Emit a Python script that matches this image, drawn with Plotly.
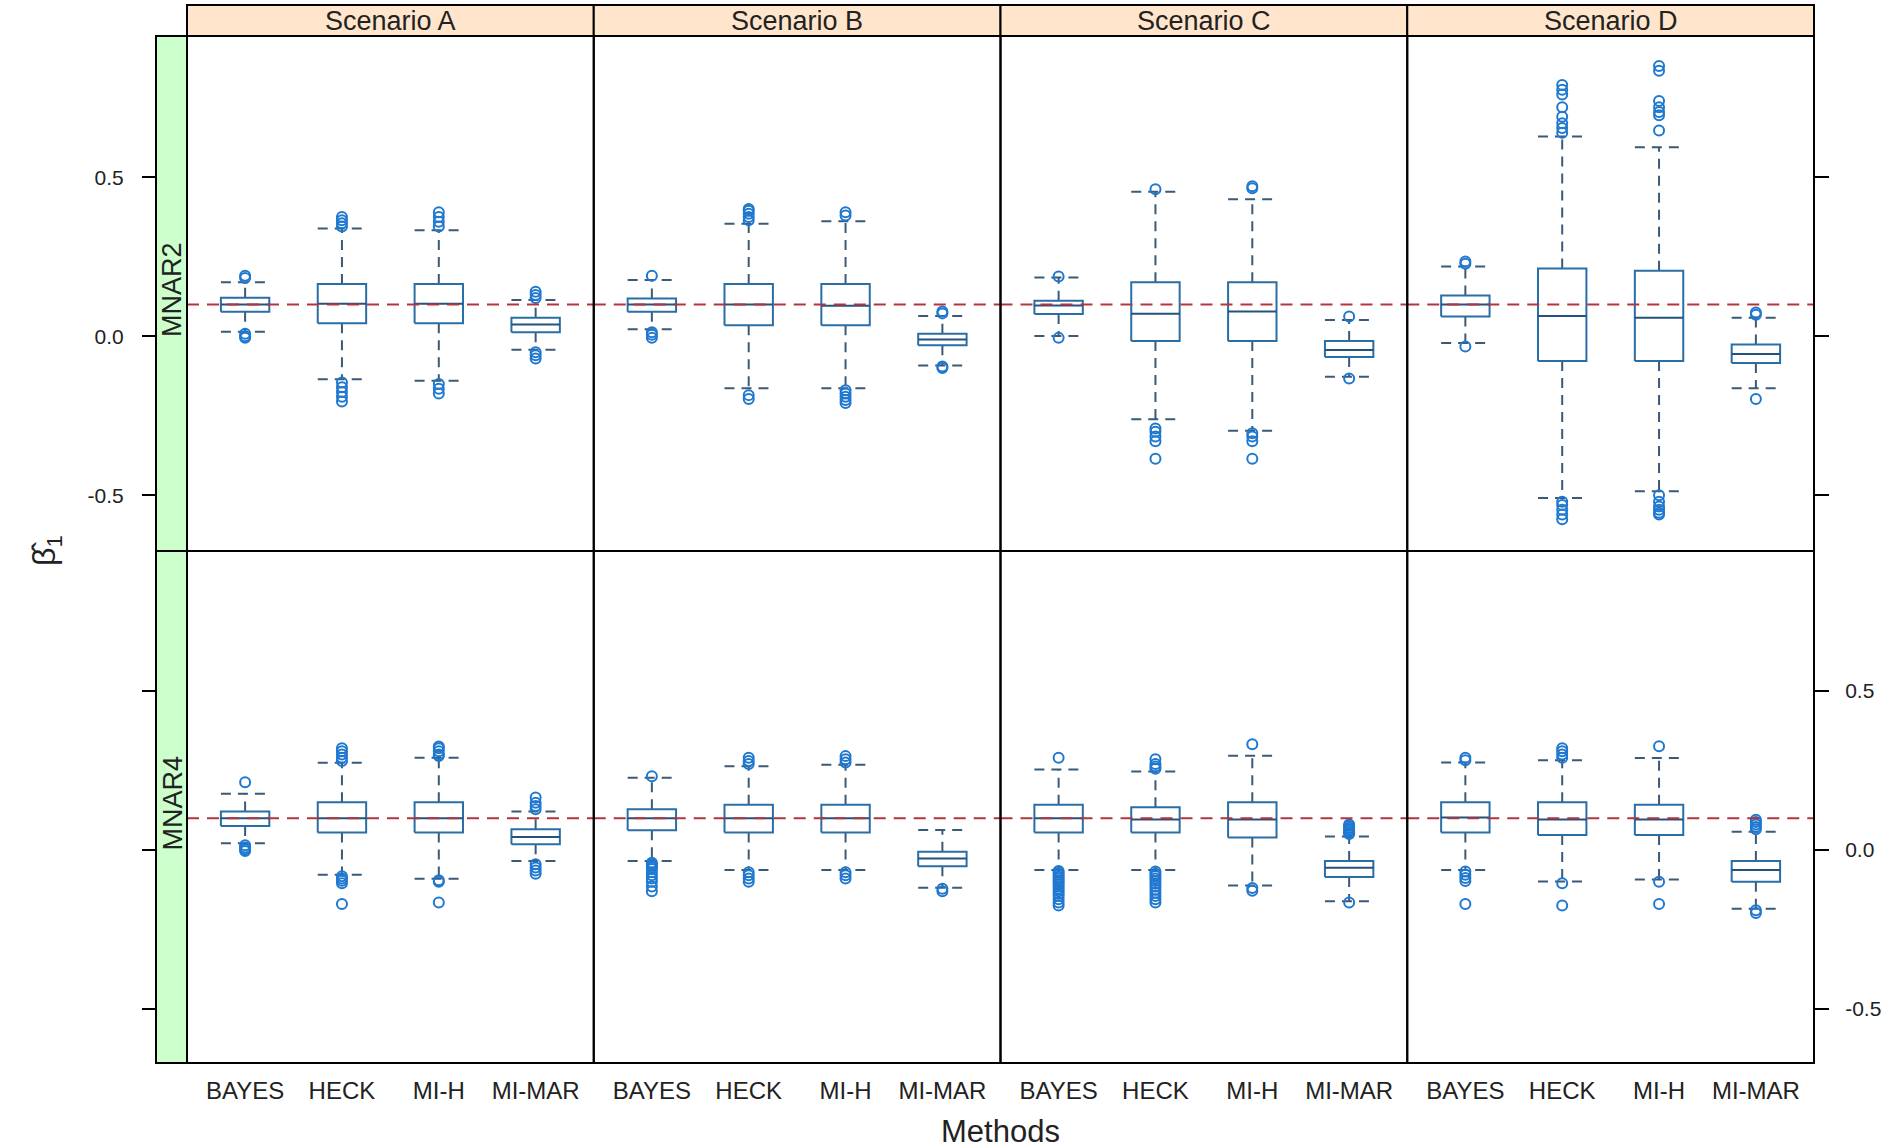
import plotly.graph_objects as go

W, H = 1890, 1148

METHODS = ["BAYES", "HECK", "MI-H", "MI-MAR"]
SCENARIOS = ["Scenario A", "Scenario B", "Scenario C", "Scenario D"]
MECHANISMS = ["MNAR2", "MNAR4"]
TRUE_BETA1 = 0.1
Y_TICKS = [-0.5, 0.0, 0.5]
Y_TICK_TEXT = ["-0.5", "0.0", "0.5"]

# ---- MNAR2 (top row): [scenario][method] ----
MNAR2_Q1 = [[0.077, 0.041, 0.041, 0.013],
            [0.077, 0.035, 0.035, -0.028],
            [0.070, -0.015, -0.015, -0.065],
            [0.062, -0.078, -0.078, -0.084]]
MNAR2_MED = [[0.100, 0.102, 0.102, 0.037],
             [0.100, 0.100, 0.096, -0.010],
             [0.097, 0.071, 0.078, -0.043],
             [0.100, 0.064, 0.058, -0.056]]
MNAR2_Q3 = [[0.121, 0.164, 0.164, 0.058],
            [0.119, 0.164, 0.164, 0.008],
            [0.112, 0.170, 0.170, -0.015],
            [0.128, 0.213, 0.206, -0.026]]
MNAR2_LO = [[0.014, -0.135, -0.140, -0.042],
            [0.022, -0.163, -0.163, -0.092],
            [0.001, -0.261, -0.297, -0.127],
            [-0.021, -0.508, -0.487, -0.163]]
MNAR2_HI = [[0.170, 0.339, 0.333, 0.114],
            [0.177, 0.354, 0.362, 0.064],
            [0.185, 0.454, 0.431, 0.051],
            [0.219, 0.628, 0.594, 0.058]]
MNAR2_OUT = [
    [[0.183, 0.190, 0.008, 0.0, -0.005],
     [0.345, 0.355, 0.365, 0.375, -0.145, -0.16, -0.175, -0.19, -0.205],
     [0.345, 0.36, 0.375, 0.39, -0.15, -0.165, -0.18],
     [0.12, 0.13, 0.14, -0.05, -0.06, -0.07]],
    [[0.19, 0.013, 0.005, -0.005],
     [0.365, 0.375, 0.385, 0.395, 0.40, -0.185, -0.197],
     [0.38, 0.39, -0.17, -0.18, -0.19, -0.20, -0.21],
     [0.072, 0.078, -0.095, -0.10]],
    [[0.188, -0.005],
     [0.462, -0.29, -0.30, -0.315, -0.33, -0.385],
     [0.465, 0.472, -0.305, -0.315, -0.33, -0.385],
     [0.062, -0.133]],
    [[0.228, 0.235, -0.032],
     [0.64, 0.655, 0.67, 0.69, 0.72, 0.76, 0.775, 0.79, -0.52, -0.53, -0.545, -0.56, -0.575],
     [0.647, 0.695, 0.705, 0.72, 0.74, 0.835, 0.85, -0.50, -0.52, -0.535, -0.545, -0.555, -0.56],
     [0.068, 0.075, -0.197]],
]

# ---- MNAR4 (bottom row): [scenario][method] ----
MNAR4_Q1 = [[0.075, 0.055, 0.055, 0.018],
            [0.062, 0.055, 0.055, -0.051],
            [0.055, 0.055, 0.039, -0.085],
            [0.055, 0.047, 0.047, -0.100]]
MNAR4_MED = [[0.100, 0.100, 0.100, 0.041],
             [0.100, 0.100, 0.100, -0.027],
             [0.100, 0.096, 0.096, -0.056],
             [0.102, 0.096, 0.096, -0.063]]
MNAR4_Q3 = [[0.121, 0.150, 0.150, 0.065],
            [0.128, 0.142, 0.142, -0.006],
            [0.142, 0.134, 0.150, -0.035],
            [0.150, 0.150, 0.142, -0.035]]
MNAR4_LO = [[0.021, -0.078, -0.091, -0.035],
            [-0.035, -0.063, -0.063, -0.119],
            [-0.063, -0.063, -0.112, -0.161],
            [-0.063, -0.099, -0.093, -0.185]]
MNAR4_HI = [[0.177, 0.274, 0.290, 0.121],
            [0.227, 0.263, 0.268, 0.063],
            [0.253, 0.247, 0.296, 0.042],
            [0.275, 0.282, 0.289, 0.057]]
MNAR4_OUT = [
    [[0.213, 0.015, 0.008, 0.002, -0.003],
     [0.28, 0.29, 0.30, 0.31, 0.32, -0.083, -0.09, -0.097, -0.105, -0.17],
     [0.295, 0.30, 0.31, 0.32, 0.325, -0.095, -0.10, -0.165],
     [0.128, 0.138, 0.148, 0.165, -0.045, -0.055, -0.065, -0.075]],
    [[0.232, -0.04, -0.045, -0.05, -0.055, -0.06, -0.07, -0.08, -0.09, -0.10, -0.115, -0.13],
     [0.27, 0.28, 0.29, -0.07, -0.08, -0.09, -0.10],
     [0.275, 0.285, 0.295, -0.07, -0.08, -0.09],
     [-0.122, -0.13]],
    [[0.29, -0.066, -0.072, -0.078, -0.084, -0.09, -0.096, -0.102, -0.108, -0.115,
      -0.122, -0.13, -0.138, -0.145, -0.155, -0.165, -0.175],
     [0.255, 0.262, 0.27, 0.285, -0.068, -0.075, -0.082, -0.09, -0.098, -0.106,
      -0.115, -0.125, -0.135, -0.145, -0.155, -0.165],
     [0.332, -0.12, -0.128],
     [0.05, 0.055, 0.06, 0.065, 0.07, 0.075, 0.08, -0.165]],
    [[0.282, 0.29, -0.068, -0.078, -0.088, -0.098, -0.17],
     [0.29, 0.30, 0.31, 0.32, -0.105, -0.175],
     [0.326, -0.10, -0.17],
     [0.065, 0.072, 0.08, 0.088, 0.095, -0.19, -0.198]],
]

ROWS = [
    (MNAR2_Q1, MNAR2_MED, MNAR2_Q3, MNAR2_LO, MNAR2_HI, MNAR2_OUT),
    (MNAR4_Q1, MNAR4_MED, MNAR4_Q3, MNAR4_LO, MNAR4_HI, MNAR4_OUT),
]

# ---- geometry (pixels) ----
PANEL_L, PANEL_R = 187, 1814
PANEL_T, ROW_SPLIT, PANEL_B = 36, 551, 1063
STRIP_T = 5
LSTRIP_L = 156
ROW_YRANGE = [[-0.675, 0.944], [-0.670, 0.940]]
XRANGE = [0.4, 4.6]
BOX_HALF = 0.25

BOX_COL = "#2a6ea6"
UMB_COL = "#3b5a78"
MED_COL = "#24527e"
PT_COL = "#1f78d0"
REF_COL = "#b3343c"
FONT = "Liberation Sans, Arial, sans-serif"


def px(x):
    return x / W


def py(y):
    return 1 - y / H


col_w = (PANEL_R - PANEL_L) / 4
row_edges = [(PANEL_T, ROW_SPLIT), (ROW_SPLIT, PANEL_B)]

fig = go.Figure()
layout = {}
shapes = []
annotations = []

for r in range(2):
    q1s, meds, q3s, los, his, outs = ROWS[r]
    for c in range(4):
        k = r * 4 + c + 1
        xa = "x" if k == 1 else f"x{k}"
        ya = "y" if k == 1 else f"y{k}"
        x0 = PANEL_L + c * col_w
        x1 = x0 + col_w
        yt, yb = row_edges[r]

        for i in range(4):
            xc = i + 1
            q1, md, q3 = q1s[c][i], meds[c][i], q3s[c][i]
            lo, hi = los[c][i], his[c][i]
            # whiskers (dashed)
            for ya0, ya1 in ((q3, hi), (q1, lo)):
                fig.add_trace(go.Scatter(x=[xc, xc], y=[ya0, ya1], mode="lines",
                                         line=dict(color=UMB_COL, width=2, dash="10px,7px"),
                                         xaxis=xa, yaxis=ya, showlegend=False, hoverinfo="skip"))
            for yv in (hi, lo):
                fig.add_trace(go.Scatter(x=[xc - BOX_HALF, xc + BOX_HALF], y=[yv, yv], mode="lines",
                                         line=dict(color=UMB_COL, width=2, dash="10px,7px"),
                                         xaxis=xa, yaxis=ya, showlegend=False, hoverinfo="skip"))
            # box
            fig.add_trace(go.Scatter(x=[xc - BOX_HALF, xc + BOX_HALF, xc + BOX_HALF, xc - BOX_HALF, xc - BOX_HALF],
                                     y=[q1, q1, q3, q3, q1], mode="lines",
                                     line=dict(color=BOX_COL, width=2),
                                     fill="toself", fillcolor="white",
                                     xaxis=xa, yaxis=ya, showlegend=False, hoverinfo="skip"))
            # median
            fig.add_trace(go.Scatter(x=[xc - BOX_HALF, xc + BOX_HALF], y=[md, md], mode="lines",
                                     line=dict(color=MED_COL, width=2),
                                     xaxis=xa, yaxis=ya, showlegend=False, hoverinfo="skip"))
            # outliers
            ov = outs[c][i]
            fig.add_trace(go.Scatter(x=[xc] * len(ov), y=ov, mode="markers",
                                     marker=dict(symbol="circle-open", size=10, color=PT_COL,
                                                 line=dict(width=2, color=PT_COL)),
                                     xaxis=xa, yaxis=ya, showlegend=False, hoverinfo="skip"))
        # reference line at the true value
        fig.add_trace(go.Scatter(x=XRANGE, y=[TRUE_BETA1, TRUE_BETA1], mode="lines",
                                 line=dict(color=REF_COL, width=2, dash="12px,8px"),
                                 xaxis=xa, yaxis=ya, showlegend=False, hoverinfo="skip"))

        xkey = "xaxis" if k == 1 else f"xaxis{k}"
        ykey = "yaxis" if k == 1 else f"yaxis{k}"
        layout[xkey] = dict(
            domain=[px(x0), px(x1)], anchor=ya, range=XRANGE,
            tickvals=[1, 2, 3, 4], ticktext=METHODS,
            showticklabels=(r == 1), ticks="outside" if r == 1 else "",
            ticklen=6, tickcolor="rgba(0,0,0,0)",
            tickfont=dict(family=FONT, size=24, color="#222"),
            showline=False, showgrid=False, zeroline=False, fixedrange=True,
        )
        ydict = dict(
            domain=[py(yb), py(yt)], range=ROW_YRANGE[r],
            tickvals=Y_TICKS, ticktext=Y_TICK_TEXT,
            showline=False, showgrid=False, zeroline=False, fixedrange=True,
            tickfont=dict(family=FONT, size=21, color="#222"),
        )
        if c == 0:
            ydict.update(anchor="free", position=px(LSTRIP_L), side="left", ticks="outside",
                         ticklen=14, tickwidth=2, tickcolor="black",
                         showticklabels=(r == 0), ticklabelstandoff=14)
        elif c == 3:
            ydict.update(anchor="free", position=px(PANEL_R), side="right", ticks="outside",
                         ticklen=14, tickwidth=2, tickcolor="black",
                         showticklabels=(r == 1), ticklabelstandoff=12)
        else:
            ydict.update(anchor=xa, ticks="", showticklabels=False)
        layout[ykey] = ydict

        # panel frame
        shapes.append(dict(type="rect", xref="paper", yref="paper",
                           x0=px(x0), x1=px(x1), y0=py(yb), y1=py(yt),
                           line=dict(color="black", width=2), layer="above"))

# top strips
for c in range(4):
    x0 = PANEL_L + c * col_w
    x1 = x0 + col_w
    shapes.append(dict(type="rect", xref="paper", yref="paper",
                       x0=px(x0), x1=px(x1), y0=py(PANEL_T), y1=py(STRIP_T),
                       fillcolor="#ffe5cc", line=dict(color="black", width=2), layer="below"))
    annotations.append(dict(text=SCENARIOS[c], xref="paper", yref="paper",
                            x=px((x0 + x1) / 2), y=py((PANEL_T + STRIP_T) / 2 + 1),
                            showarrow=False, xanchor="center", yanchor="middle",
                            font=dict(family=FONT, size=27, color="#222")))

# left strips
for r in range(2):
    yt, yb = row_edges[r]
    shapes.append(dict(type="rect", xref="paper", yref="paper",
                       x0=px(LSTRIP_L), x1=px(PANEL_L), y0=py(yb), y1=py(yt),
                       fillcolor="#ccffcc", line=dict(color="black", width=2), layer="below"))
    annotations.append(dict(text=MECHANISMS[r], xref="paper", yref="paper",
                            x=px((LSTRIP_L + PANEL_L) / 2 + 1), y=py((yt + yb) / 2 - 4),
                            showarrow=False, textangle=-90, xanchor="center", yanchor="middle",
                            font=dict(family=FONT, size=27, color="#222")))

# axis titles
annotations.append(dict(text="Methods", xref="paper", yref="paper",
                        x=px((PANEL_L + PANEL_R) / 2), y=py(1131),
                        showarrow=False, xanchor="center", yanchor="middle",
                        font=dict(family=FONT, size=31, color="#222")))
annotations.append(dict(text="\u03b2\u0302<sub>1</sub>", xref="paper", yref="paper",
                        x=px(46), y=py(551),
                        showarrow=False, textangle=-90, xanchor="center", yanchor="middle",
                        font=dict(family=FONT, size=32, color="#222")))

fig.update_layout(
    width=W, height=H,
    margin=dict(l=0, r=0, t=0, b=0),
    paper_bgcolor="white", plot_bgcolor="white",
    showlegend=False,
    shapes=shapes, annotations=annotations,
    **layout,
)

fig.write_html("out.html", config={"displayModeBar": False},
               post_script="document.body.style.margin='0px';document.body.style.overflow='hidden';")
